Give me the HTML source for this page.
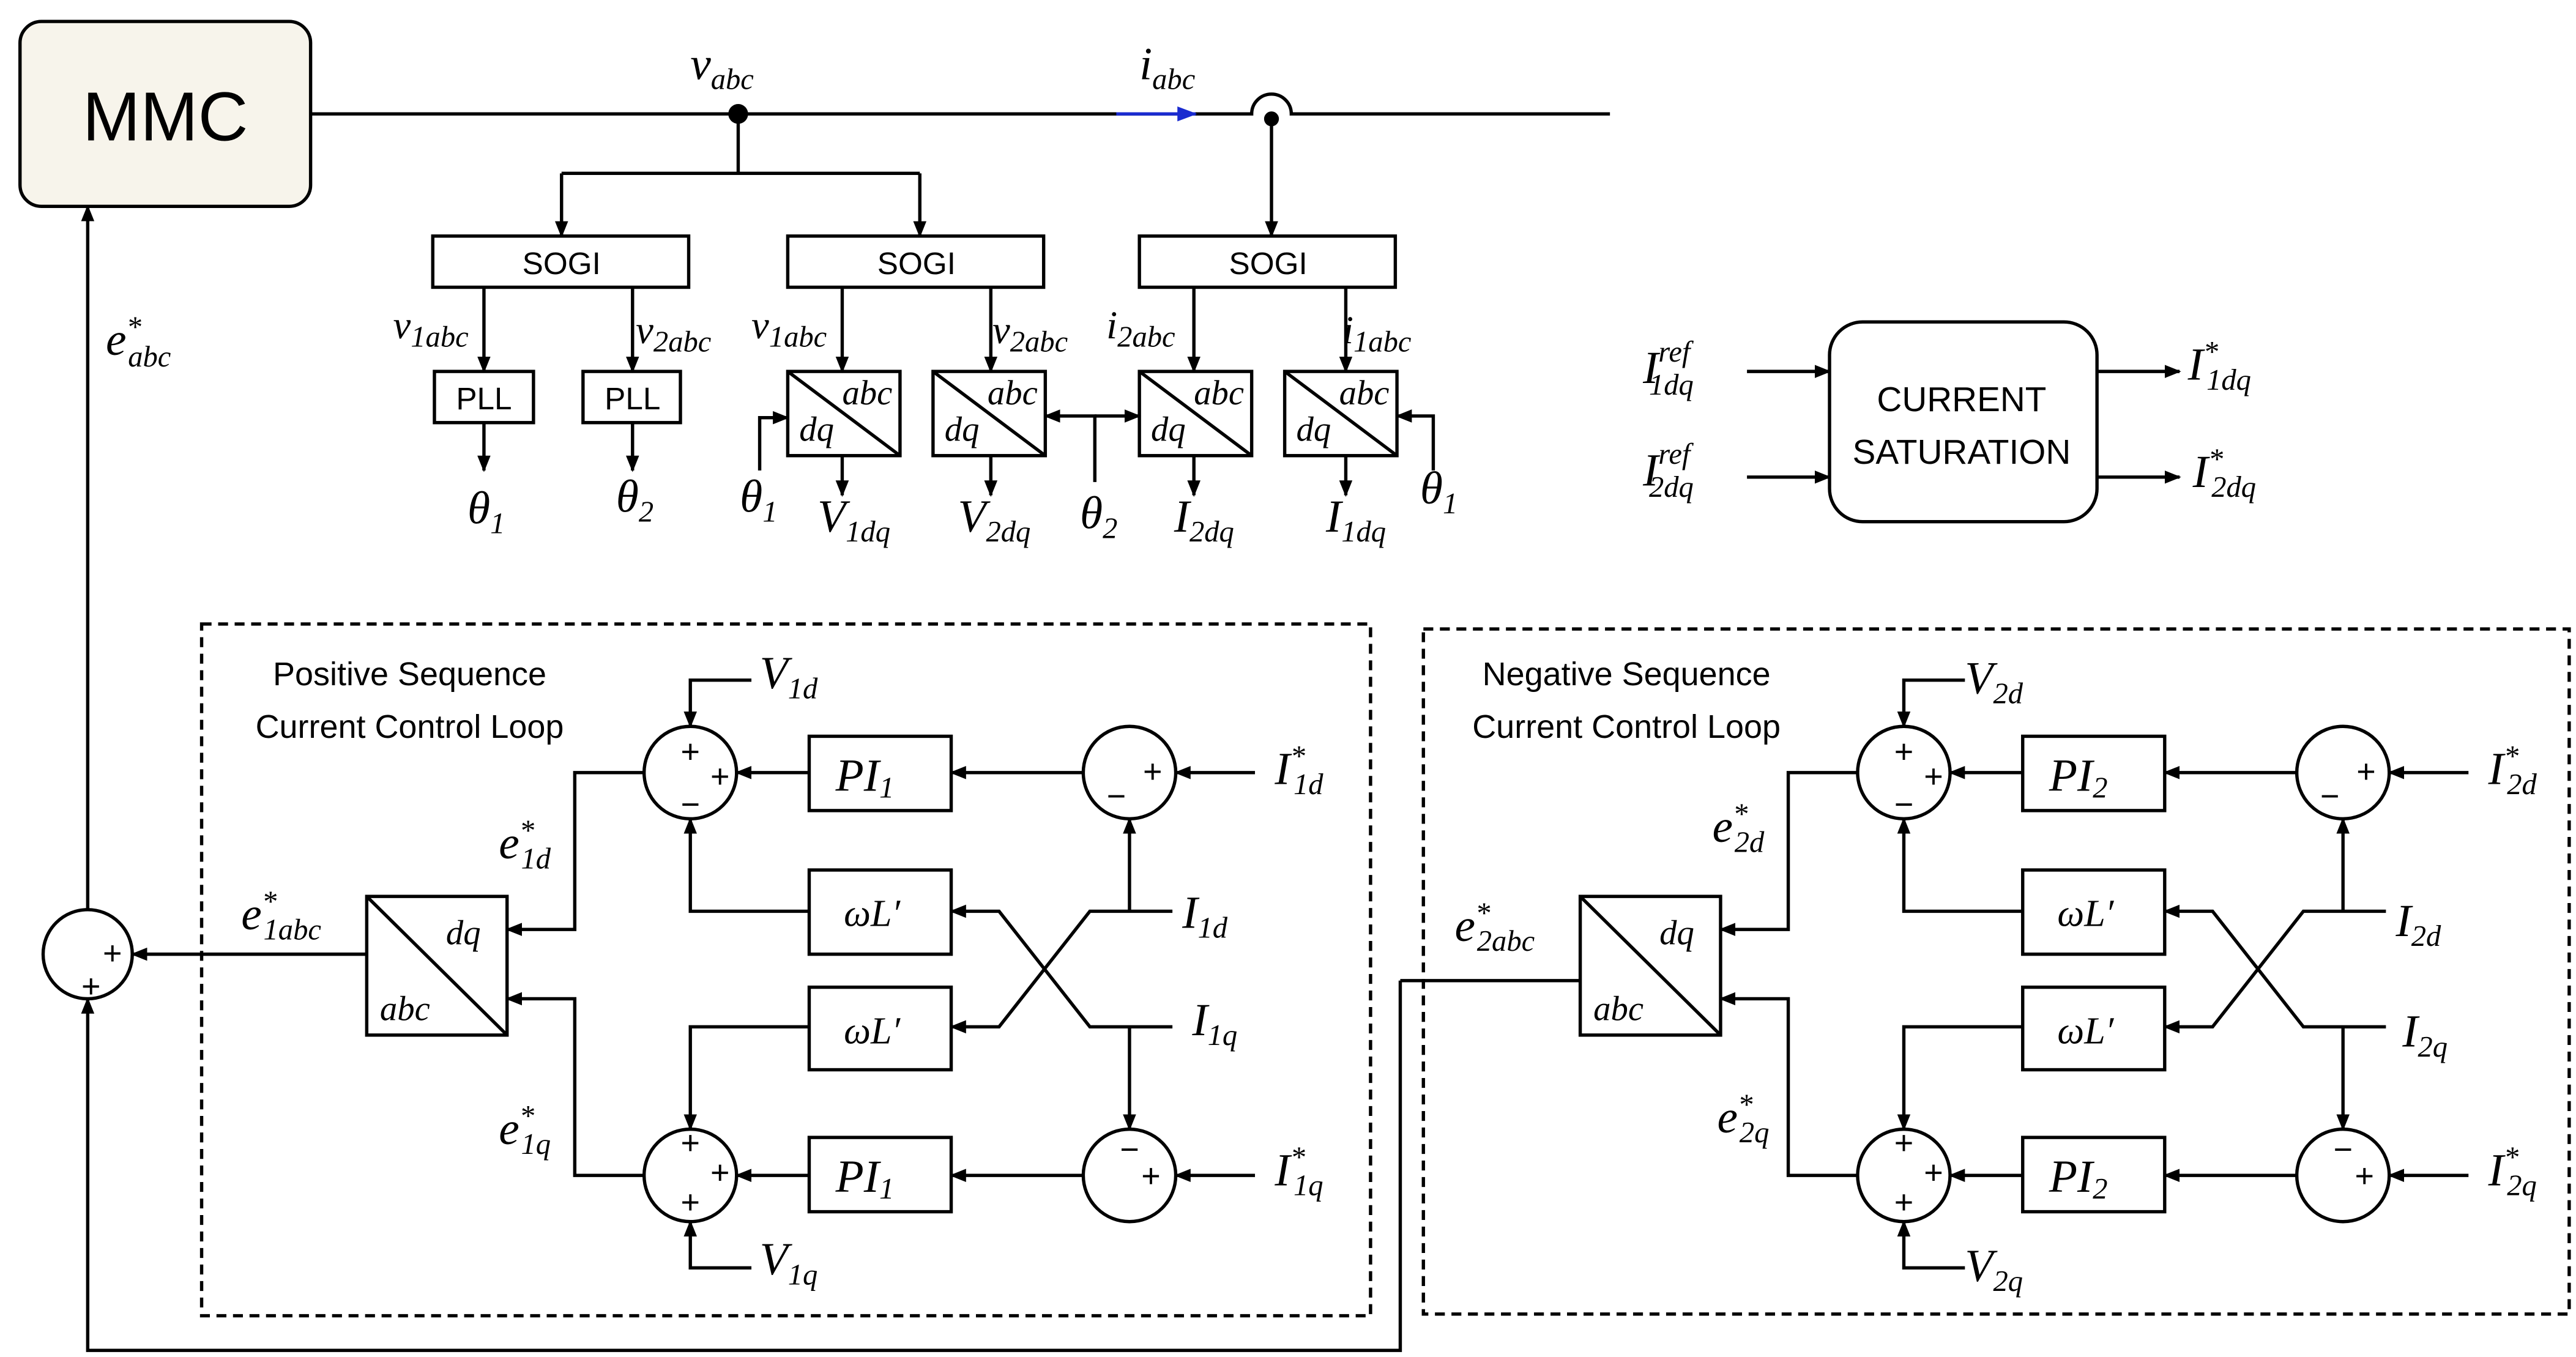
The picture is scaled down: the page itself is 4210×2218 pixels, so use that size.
<!DOCTYPE html>
<html><head><meta charset="utf-8"><style>
html,body{margin:0;padding:0;background:#fff}
svg{display:block}
.m{font-family:"Liberation Serif",serif;font-style:italic;font-size:28px}
.s{font-size:18px}
.t{font-family:"Liberation Sans",sans-serif;font-size:19px}
</style></head><body>
<svg width="4210" height="2218" viewBox="0 0 1560 822" xmlns="http://www.w3.org/2000/svg">
<defs>
<marker id="a" markerWidth="10" markerHeight="8" refX="9" refY="4" orient="auto" markerUnits="userSpaceOnUse"><path d="M0,0 L10,4 L0,8 z" fill="#000"/></marker>
<marker id="b" markerWidth="12" markerHeight="9" refX="11" refY="4.5" orient="auto" markerUnits="userSpaceOnUse"><path d="M0,0 L12,4.5 L0,9 z" fill="#1a2bd0"/></marker>
</defs>
<g fill="none" stroke="#000" stroke-width="2">
<rect x="12" y="13" width="176" height="112" rx="13" fill="#f7f4eb"/>
<path d="M188,69 H758 A12,12 0 0 1 782,69 H975"/>
<path d="M676,69 H724" stroke="#1a2bd0" marker-end="url(#b)"/>
<path d="M447,69 V105 M340,105 H557 M340,105 V143" marker-end="url(#a)"/>
<path d="M557,105 V143" marker-end="url(#a)"/>
<path d="M770,72 V143" marker-end="url(#a)"/>
<rect x="262" y="143" width="155" height="31"/><rect x="477" y="143" width="155" height="31"/><rect x="690" y="143" width="155" height="31"/>
<path d="M293,174 V225" marker-end="url(#a)"/><path d="M383,174 V225" marker-end="url(#a)"/>
<path d="M510,174 V225" marker-end="url(#a)"/><path d="M600,174 V225" marker-end="url(#a)"/>
<path d="M723,174 V225" marker-end="url(#a)"/><path d="M815,174 V225" marker-end="url(#a)"/>
<rect x="263" y="225" width="60" height="31"/><rect x="353" y="225" width="59" height="31"/>
<path d="M293,256 V285" marker-end="url(#a)"/><path d="M383,256 V285" marker-end="url(#a)"/>
<rect x="477" y="225" width="68" height="51"/><path d="M477,225 L545,276"/>
<rect x="565" y="225" width="68" height="51"/><path d="M565,225 L633,276"/>
<rect x="690" y="225" width="68" height="51"/><path d="M690,225 L758,276"/>
<rect x="778" y="225" width="68" height="51"/><path d="M778,225 L846,276"/>
<path d="M510,276 V300" marker-end="url(#a)"/><path d="M600,276 V300" marker-end="url(#a)"/>
<path d="M723,276 V300" marker-end="url(#a)"/><path d="M815,276 V300" marker-end="url(#a)"/>
<path d="M460,285 V253 H477" marker-end="url(#a)"/>
<path d="M663,292 V252 H633" marker-end="url(#a)"/><path d="M663,252 H690" marker-end="url(#a)"/>
<path d="M868,285 V252 H846" marker-end="url(#a)"/>
<rect x="1108" y="195" width="162" height="121" rx="20"/>
<path d="M1058,225 H1108" marker-end="url(#a)"/><path d="M1058,289 H1108" marker-end="url(#a)"/>
<path d="M1270,225 H1320" marker-end="url(#a)"/><path d="M1270,289 H1320" marker-end="url(#a)"/>
<rect x="122" y="378" width="708" height="419" stroke-dasharray="6,4"/>
<rect x="862" y="381" width="694" height="415" stroke-dasharray="6,4"/>
<path d="M53,551 V125" marker-end="url(#a)"/>
<circle cx="53" cy="578" r="27"/>
<path d="M848,594 V818 H53 V605" marker-end="url(#a)"/>
<path d="M957,594 H848"/>
<path d="M222,578 H80" marker-end="url(#a)"/>
<g id="loop">
<circle cx="418" cy="468" r="28"/><circle cx="684" cy="468" r="28"/>
<circle cx="418" cy="712" r="28"/><circle cx="684" cy="712" r="28"/>
<rect x="490" y="446" width="86" height="45"/><rect x="490" y="689" width="86" height="45"/>
<rect x="490" y="527" width="86" height="51"/><rect x="490" y="598" width="86" height="50"/>
<rect x="222" y="543" width="85" height="84"/><path d="M222,543 L307,627"/>
<path d="M490,468 H446" marker-end="url(#a)"/><path d="M656,468 H576" marker-end="url(#a)"/>
<path d="M760,468 H712" marker-end="url(#a)"/>
<path d="M490,712 H446" marker-end="url(#a)"/><path d="M656,712 H576" marker-end="url(#a)"/>
<path d="M760,712 H712" marker-end="url(#a)"/>
<path d="M455,412 H418 V440" marker-end="url(#a)"/>
<path d="M455,768 H418 V740" marker-end="url(#a)"/>
<path d="M490,552 H418 V496" marker-end="url(#a)"/>
<path d="M490,622 H418 V684" marker-end="url(#a)"/>
<path d="M710,552 H660 L605,622 H576" marker-end="url(#a)"/>
<path d="M710,622 H660 L605,552 H576" marker-end="url(#a)"/>
<path d="M684,552 V496" marker-end="url(#a)"/>
<path d="M684,622 V684" marker-end="url(#a)"/>
<path d="M390,468 H348 V563 H307" marker-end="url(#a)"/>
<path d="M390,712 H348 V605 H307" marker-end="url(#a)"/>
</g>
<use href="#loop" transform="translate(735,0)"/>
</g>
<circle cx="447" cy="69" r="6" fill="#000"/><circle cx="770" cy="72" r="4.5" fill="#000"/>
<text x="100" y="85" font-family="Liberation Sans,sans-serif" font-size="42" text-anchor="middle">MMC</text>
<g class="t" text-anchor="middle">
<text x="340" y="166">SOGI</text><text x="555" y="166">SOGI</text><text x="768" y="166">SOGI</text>
<text x="293" y="248">PLL</text><text x="383" y="248">PLL</text>
<text x="1188" y="249" font-size="21">CURRENT</text><text x="1188" y="281" font-size="21">SATURATION</text>
<text x="248" y="415" font-size="20">Positive Sequence</text><text x="248" y="447" font-size="20">Current Control Loop</text>
<text x="985" y="415" font-size="20">Negative Sequence</text><text x="985" y="447" font-size="20">Current Control Loop</text>
</g>
<g class="m">
<text x="418" y="48">v<tspan class="s" dy="6">abc</tspan></text>
<text x="690" y="48">i<tspan class="s" dy="6">abc</tspan></text>
<text x="64" y="215">e<tspan class="s" dy="-11">*</tspan><tspan class="s" dx="-8" dy="18">abc</tspan></text>
<text x="238" y="205" font-size="24">v<tspan class="s" dy="5">1abc</tspan></text>
<text x="385" y="208" font-size="24">v<tspan class="s" dy="5">2abc</tspan></text>
<text x="455" y="205" font-size="24">v<tspan class="s" dy="5">1abc</tspan></text>
<text x="601" y="208" font-size="24">v<tspan class="s" dy="5">2abc</tspan></text>
<text x="670" y="205" font-size="24">i<tspan class="s" dy="5">2abc</tspan></text>
<text x="813" y="208" font-size="24">i<tspan class="s" dy="5">1abc</tspan></text>
<g font-size="21"><text x="510" y="245">abc</text><text x="484" y="267">dq</text>
<text x="598" y="245">abc</text><text x="572" y="267">dq</text>
<text x="723" y="245">abc</text><text x="697" y="267">dq</text>
<text x="811" y="245">abc</text><text x="785" y="267">dq</text></g>
<text x="283" y="317">θ<tspan class="s" dy="6">1</tspan></text>
<text x="373" y="310">θ<tspan class="s" dy="6">2</tspan></text>
<text x="448" y="310">θ<tspan class="s" dy="6">1</tspan></text>
<text x="654" y="320">θ<tspan class="s" dy="6">2</tspan></text>
<text x="860" y="305">θ<tspan class="s" dy="6">1</tspan></text>
<text x="495" y="322">V<tspan class="s" dy="6">1dq</tspan></text>
<text x="580" y="322">V<tspan class="s" dy="6">2dq</tspan></text>
<text x="711" y="322">I<tspan class="s" dy="6">2dq</tspan></text>
<text x="803" y="322">I<tspan class="s" dy="6">1dq</tspan></text>
<text x="995" y="232">I<tspan class="s" dy="-13">ref</tspan><tspan class="s" dx="-25" dy="20">1dq</tspan></text>
<text x="995" y="294">I<tspan class="s" dy="-13">ref</tspan><tspan class="s" dx="-25" dy="20">2dq</tspan></text>
<text x="1325" y="230">I<tspan class="s" dy="-11">*</tspan><tspan class="s" dx="-7" dy="17">1dq</tspan></text>
<text x="1328" y="295">I<tspan class="s" dy="-11">*</tspan><tspan class="s" dx="-7" dy="17">2dq</tspan></text>
<text x="146" y="563">e<tspan class="s" dy="-11">*</tspan><tspan class="s" dx="-8" dy="17">1abc</tspan></text>
<text x="881" y="570">e<tspan class="s" dy="-11">*</tspan><tspan class="s" dx="-8" dy="17">2abc</tspan></text>
<text x="302" y="520">e<tspan class="s" dy="-11">*</tspan><tspan class="s" dx="-8" dy="17">1d</tspan></text>
<text x="302" y="693">e<tspan class="s" dy="-11">*</tspan><tspan class="s" dx="-8" dy="17">1q</tspan></text>
<text x="1037" y="510">e<tspan class="s" dy="-11">*</tspan><tspan class="s" dx="-8" dy="17">2d</tspan></text>
<text x="1040" y="686">e<tspan class="s" dy="-11">*</tspan><tspan class="s" dx="-8" dy="17">2q</tspan></text>
<text x="460" y="417">V<tspan class="s" dy="6">1d</tspan></text>
<text x="460" y="772">V<tspan class="s" dy="6">1q</tspan></text>
<text x="1190" y="420">V<tspan class="s" dy="6">2d</tspan></text>
<text x="1190" y="776">V<tspan class="s" dy="6">2q</tspan></text>
<text x="772" y="475">I<tspan class="s" dy="-11">*</tspan><tspan class="s" dx="-7" dy="17">1d</tspan></text>
<text x="772" y="718">I<tspan class="s" dy="-11">*</tspan><tspan class="s" dx="-7" dy="17">1q</tspan></text>
<text x="1507" y="475">I<tspan class="s" dy="-11">*</tspan><tspan class="s" dx="-7" dy="17">2d</tspan></text>
<text x="1507" y="718">I<tspan class="s" dy="-11">*</tspan><tspan class="s" dx="-7" dy="17">2q</tspan></text>
<text x="716" y="562">I<tspan class="s" dy="6">1d</tspan></text>
<text x="722" y="627">I<tspan class="s" dy="6">1q</tspan></text>
<text x="1451" y="567">I<tspan class="s" dy="6">2d</tspan></text>
<text x="1455" y="634">I<tspan class="s" dy="6">2q</tspan></text>
<text x="506" y="479">PI<tspan class="s" dy="4">1</tspan></text>
<text x="506" y="722">PI<tspan class="s" dy="4">1</tspan></text>
<text x="1241" y="479">PI<tspan class="s" dy="4">2</tspan></text>
<text x="1241" y="722">PI<tspan class="s" dy="4">2</tspan></text>
<g font-size="23"><text x="511" y="561">ωL′</text><text x="511" y="632">ωL′</text>
<text x="1246" y="561">ωL′</text><text x="1246" y="632">ωL′</text></g>
<g font-size="21"><text x="270" y="572">dq</text><text x="230" y="618">abc</text>
<text x="1005" y="572">dq</text><text x="965" y="618">abc</text></g>
</g>
<g font-family="Liberation Sans,sans-serif" font-size="20" text-anchor="middle">
<text x="68" y="584">+</text><text x="55" y="604">+</text>
<g id="sg">
<text x="418" y="462">+</text><text x="436" y="477">+</text><text x="418" y="494">−</text>
<text x="676" y="489">−</text><text x="698" y="474">+</text>
<text x="418" y="699">+</text><text x="436" y="717">+</text><text x="418" y="735">+</text>
<text x="684" y="703">−</text><text x="697" y="719">+</text>
</g>
<use href="#sg" transform="translate(735,0)"/>
</g>
</svg>
</body></html>
